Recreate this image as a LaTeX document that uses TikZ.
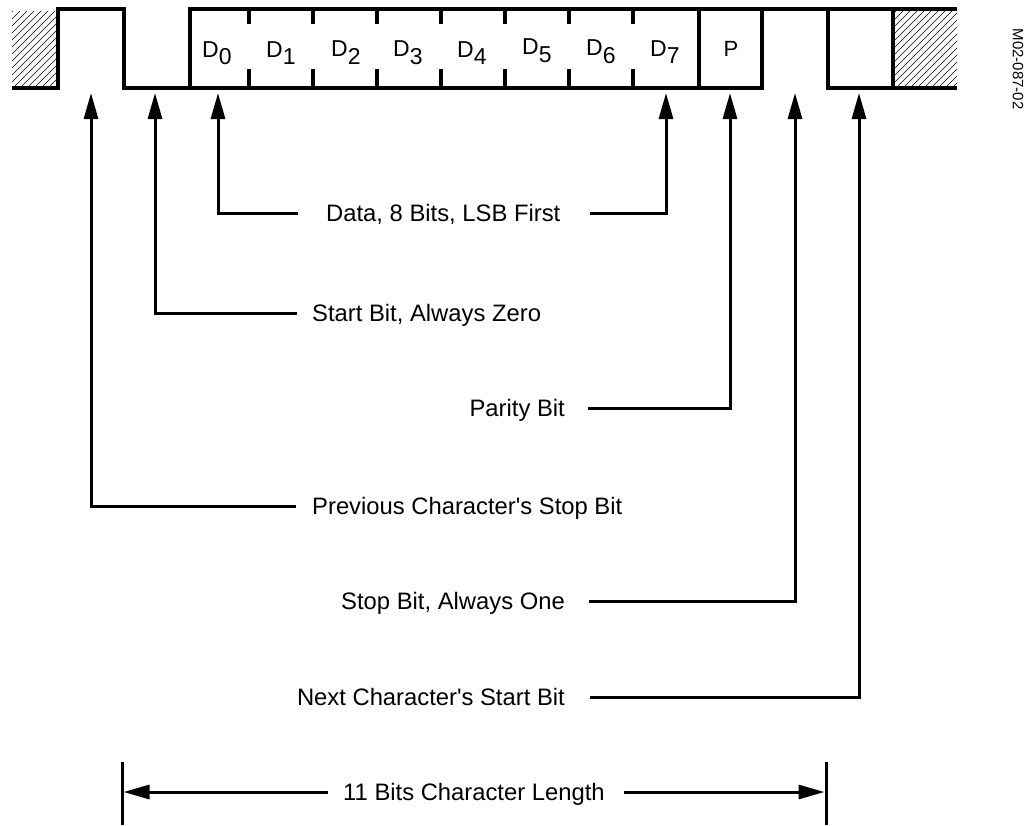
\documentclass[tikz,border=0pt]{standalone}
\usepackage{fontspec}
\setmainfont{Liberation Sans}[Ligatures=TeXOff]
\usetikzlibrary{arrows.meta}
\begin{document}
\begin{tikzpicture}[x=1pt,y=-1pt,
  wave/.style={line width=4pt,line join=miter},
  tickmark/.style={line width=4pt},
  conn/.style={line width=3pt,-{Triangle[length=26pt,width=14pt]}},
  bar/.style={line width=3pt},
  hatch/.style={line width=0.6pt},
  lbl/.style={inner sep=0pt,text height=17pt,text depth=0pt,font=\fontsize{23.8}{28}\selectfont},
  bitlbl/.style={inner sep=0pt,anchor=base west,font=\fontsize{23}{27}\selectfont},
  ]
\useasboundingbox (0,0) rectangle (1031,825);
% hatched blocks
\begin{scope}
\clip (12,11) rectangle (58,86);
\foreach \i in {-90,-83,...,60} \draw[hatch] (\i,86) -- ++(80,-80);
\end{scope}
\begin{scope}
\clip (893,11) rectangle (957,86);
\foreach \i in {800,807,...,960} \draw[hatch] (\i,86) -- ++(80,-80);
\end{scope}
% waveform
\draw[wave] (12,88) -- (58,88) -- (58,9) -- (124,9) -- (124,88) -- (190,88) -- (190,9) -- (957,9);
\draw[wave] (190,88) -- (762,88) -- (762,9);
\draw[wave] (699,9) -- (699,88);
\draw[wave] (828,9) -- (828,88) -- (957,88);
\draw[wave] (893,88) -- (893,9);
% ticks
\foreach \x in {249,313,377,441,505,569,633} {
  \draw[tickmark] (\x,9) -- (\x,24);
  \draw[tickmark] (\x,69) -- (\x,88);
}
% bit labels
\node[bitlbl] (b0) at (202,57.5) {D\raisebox{-6.5pt}{0}};
\node[bitlbl] (b1) at (266,57.5) {D\raisebox{-6.5pt}{1}};
\node[bitlbl] (b2) at (331,56) {D\raisebox{-8pt}{2}};
\node[bitlbl] (b3) at (393,56) {D\raisebox{-8.5pt}{3}};
\node[bitlbl] (b4) at (457,57) {D\raisebox{-7.5pt}{4}};
\node[bitlbl] (b5) at (522,54) {D\raisebox{-8.5pt}{5}};
\node[bitlbl] (b6) at (586,55) {D\raisebox{-8pt}{6}};
\node[bitlbl] (b7) at (650,56) {D\raisebox{-7.5pt}{7}};
\node[inner sep=0pt,anchor=base,font=\fontsize{22}{26}\selectfont] (bp) at (731,56) {P};
% figure id
\node[inner sep=0pt,rotate=-90,font=\fontsize{15}{18}\selectfont] (fid) at (1018,69) {M02-087-02};
% arrow targets
\coordinate (tprev) at (91,93);
\coordinate (tstart) at (155,93);
\coordinate (td0) at (218,93);
\coordinate (td7) at (666,93);
\coordinate (tpar) at (730,93);
\coordinate (tstop) at (795,93);
\coordinate (tnext) at (859,93);
% labels
\node[lbl,anchor=west] (ldata) at (326,213) {Data, 8 Bits, LSB First};
\node[lbl,anchor=west] (lstart) at (312,313) {Start Bit, Always Zero};
\node[lbl,anchor=east] (lpar) at (565,408) {Parity Bit};
\node[lbl,anchor=west] (lprev) at (312,506) {Previous Character's Stop Bit};
\node[lbl,anchor=east] (lstop) at (565,601) {Stop Bit, Always One};
\node[lbl,anchor=east] (lnext) at (565,697) {Next Character's Start Bit};
\node[lbl,anchor=west] (llen) at (343,792) {11 Bits Character Length};
% line starts
\coordinate (sdataL) at (298,213);
\coordinate (sdataR) at (590,213);
\coordinate (sstart) at (297,313);
\coordinate (spar) at (588,408);
\coordinate (sprev) at (296,506);
\coordinate (sstop) at (589,601);
\coordinate (snext) at (590,697);
\draw[conn] (sdataL) -| (td0);
\draw[conn] (sdataR) -| (td7);
\draw[conn] (sstart) -| (tstart);
\draw[conn] (spar) -| (tpar);
\draw[conn] (sprev) -| (tprev);
\draw[conn] (sstop) -| (tstop);
\draw[conn] (snext) -| (tnext);
% length dimension
\coordinate (barLt) at (122,762);
\coordinate (barLb) at (122,825);
\coordinate (barRt) at (826,762);
\coordinate (barRb) at (826,825);
\draw[bar] (barLt) -- (barLb);
\draw[bar] (barRt) -- (barRb);
\coordinate (slenL) at (328,792);
\coordinate (slenR) at (624,792);
\coordinate (tlenL) at (123.5,792);
\coordinate (tlenR) at (824.5,792);
\draw[conn] (slenL) -- (tlenL);
\draw[conn] (slenR) -- (tlenR);
\end{tikzpicture}
\end{document}
